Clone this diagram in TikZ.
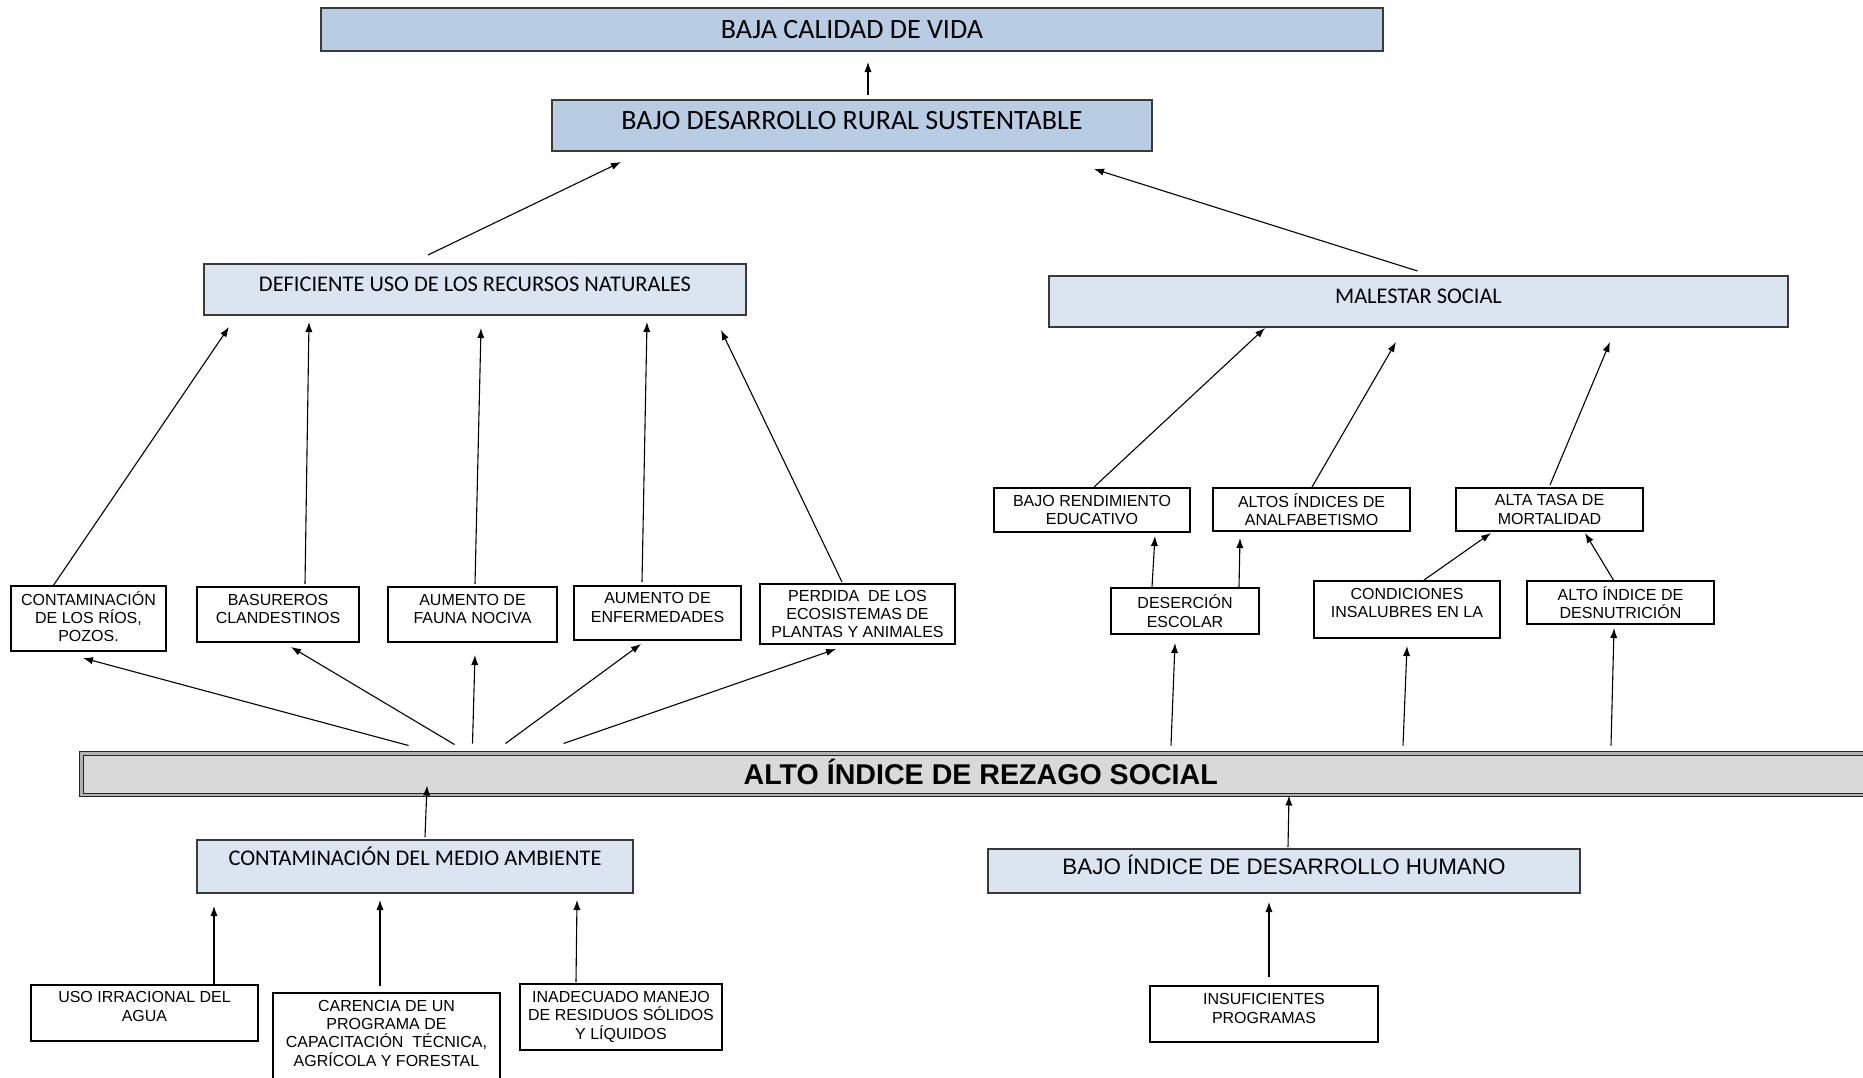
\documentclass[tikz,border=0pt]{standalone}
\usepackage{fontspec}
\setmainfont{Liberation Sans}
\newfontfamily\calibri{Carlito}
\usetikzlibrary{arrows.meta}

\definecolor{azul}{HTML}{B8CCE4}
\definecolor{azulclaro}{HTML}{DBE5F1}
\definecolor{gris}{HTML}{D9D9D9}
\definecolor{borde}{HTML}{3A3A3A}

\tikzset{
  caja/.style={draw=black, line width=0.6pt, inner sep=0pt, outer sep=0pt,
    align=center, font=\fontsize{8}{9.2}\selectfont},
  titulo/.style={draw=borde, line width=0.6pt, fill=azul, inner sep=0pt, outer sep=0pt,
    font=\calibri\fontsize{14}{16}\selectfont, text height=9pt},
  rama/.style={draw=borde, line width=0.6pt, fill=azulclaro, inner sep=0pt, outer sep=0pt,
    font=\calibri\fontsize{11.2}{13}\selectfont, text height=7.2pt},
  flecha/.style={-{Latex[length=5pt,width=3.6pt]}, line width=0.55pt}
}

\begin{document}
\begin{tikzpicture}[x=0.5pt,y=-0.5pt]
\useasboundingbox (0,0) rectangle (1863,1077);
\clip (0,0) rectangle (1863,1077);

% efectos
\node[titulo, minimum width=531pt, minimum height=21.5pt, text depth=0pt] (calidad) at (852,29.5) {BAJA CALIDAD DE VIDA};
\node[titulo, minimum width=300pt, minimum height=25.5pt, text depth=5.5pt] (rural) at (852,125.5) {BAJO DESARROLLO RURAL SUSTENTABLE};
\node[rama, minimum width=271pt, minimum height=25.5pt, text depth=5.5pt] (deficiente) at (475,289.5) {DEFICIENTE USO DE LOS RECURSOS NATURALES};
\node[rama, minimum width=369.5pt, minimum height=25.5pt, text depth=5.5pt] (malestar) at (1418.5,301.5) {MALESTAR SOCIAL};

\node[caja, minimum width=77.5pt, minimum height=32.5pt, text depth=2pt] (rios) at (88.5,618.5) {CONTAMINACIÓN\\DE LOS RÍOS,\\POZOS.};
\node[caja, minimum width=81pt, minimum height=27.5pt, text depth=5.5pt] (basura) at (278,614.5) {BASUREROS\\CLANDESTINOS};
\node[caja, minimum width=84.5pt, minimum height=27.5pt, text depth=5.5pt] (fauna) at (472.5,614.5) {AUMENTO DE\\FAUNA NOCIVA};
\node[caja, minimum width=83.5pt, minimum height=27pt, text depth=5.5pt] (enferm) at (657.5,613) {AUMENTO DE\\ENFERMEDADES};
\node[caja, minimum width=97.5pt, minimum height=30pt] (perdida) at (857.5,614) {PERDIDA\ \ DE LOS\\ECOSISTEMAS DE\\PLANTAS Y ANIMALES};

\node[caja, minimum width=98pt, minimum height=22pt] (rendim) at (1092,510) {BAJO RENDIMIENTO\\EDUCATIVO};
\node[caja, minimum width=98.5pt, minimum height=21.5pt] (analf) at (1311.5,509.5) {ALTOS ÍNDICES DE\\ANALFABETISMO};
\node[caja, minimum width=93.5pt, minimum height=21.5pt] (mortal) at (1549.5,509.5) {ALTA TASA DE\\MORTALIDAD};
\node[caja, minimum width=74pt, minimum height=23pt] (desercion) at (1185,611) {DESERCIÓN\\ESCOLAR};
\node[caja, minimum width=93pt, minimum height=28.5pt, text depth=6.5pt] (condic) at (1407,609.5) {CONDICIONES\\INSALUBRES EN LA};
\node[caja, minimum width=93.5pt, minimum height=21.5pt] (desnut) at (1620.5,602.5) {ALTO ÍNDICE DE\\DESNUTRICIÓN};

% problema central
\node[draw=black!85, line width=0.5pt, double=gray!60, double distance=1.2pt, fill=gris,
  inner sep=0pt, minimum width=899.25pt, minimum height=20.75pt,
  font=\bfseries\fontsize{14.3}{16}\selectfont, text height=10.2pt, text depth=0pt]
  (rezago) at (980.75,774.25) {ALTO ÍNDICE DE REZAGO SOCIAL};

% causas
\node[rama, minimum width=218pt, minimum height=26.5pt, text depth=8.5pt] (medio) at (415,866.5) {CONTAMINACIÓN DEL MEDIO AMBIENTE};
\node[rama, font=\fontsize{11.2}{13}\selectfont, text height=8pt, text depth=5pt,
  minimum width=296pt, minimum height=22pt] (idh) at (1284,871) {BAJO ÍNDICE DE DESARROLLO HUMANO};

\node[caja, minimum width=113.5pt, minimum height=28pt, text depth=6.5pt] (agua) at (144.5,1013) {USO IRRACIONAL DEL\\AGUA};
\node[caja, minimum width=113.5pt, minimum height=48.5pt, text depth=8.5pt] (carencia) at (386.5,1041.5) {CARENCIA DE UN\\PROGRAMA DE\\CAPACITACIÓN\ \ TÉCNICA,\\AGRÍCOLA Y FORESTAL};
\node[caja, minimum width=101pt, minimum height=33pt, text depth=2pt] (residuos) at (621,1017) {INADECUADO MANEJO\\DE RESIDUOS SÓLIDOS\\Y LÍQUIDOS};
\node[caja, minimum width=114pt, minimum height=28pt, text depth=5.5pt] (insuf) at (1264,1014) {INSUFICIENTES\\PROGRAMAS};

% flechas
\draw[flecha] ([shift={(16,-5)}]rural.north) -- ([shift={(16,11)}]calidad.south);
\draw[flecha] ([shift={(-47,-9)}]deficiente.north) -- ([shift={(-231,11)}]rural.south);
\draw[flecha] ([shift={(-1,-5)}]malestar.north) -- ([shift={(242,18)}]rural.south);

\draw[flecha] ([shift={(-35.5,0)}]rios.north) -- ([shift={(-246,12)}]deficiente.south);
\draw[flecha] ([shift={(27,-3)}]basura.north) -- ([shift={(-166,7)}]deficiente.south);
\draw[flecha] ([shift={(2.5,-3)}]fauna.north) -- ([shift={(6,13)}]deficiente.south);
\draw[flecha] ([shift={(-15.5,-4)}]enferm.north) -- ([shift={(172,7)}]deficiente.south);
\draw[flecha] ([shift={(-15.5,-2)}]perdida.north) -- ([shift={(246,15)}]deficiente.south);

\draw[flecha] ([shift={(327.5,-7.5)}]rezago.north west) -- ([shift={(-5.5,7)}]rios.south);
\draw[flecha] ([shift={(373.5,-8.5)}]rezago.north west) -- ([shift={(13,5)}]basura.south);
\draw[flecha] ([shift={(391.5,-9.5)}]rezago.north west) -- ([shift={(2.5,13)}]fauna.south);
\draw[flecha] ([shift={(424.5,-9.5)}]rezago.north west) -- ([shift={(-16.5,4)}]enferm.south);
\draw[flecha] ([shift={(482.5,-9.5)}]rezago.north west) -- ([shift={(-21.5,5)}]perdida.south);

\draw[flecha] ([shift={(2,-1)}]rendim.north) -- ([shift={(-153.5,1)}]malestar.south);
\draw[flecha] ([shift={(0.5,-1)}]analf.north) -- ([shift={(-22.5,15)}]malestar.south);
\draw[flecha] ([shift={(0.5,-3)}]mortal.north) -- ([shift={(191.5,15)}]malestar.south);

\draw[flecha] ([shift={(-33,-1)}]desercion.north) -- ([shift={(63,4)}]rendim.south);
\draw[flecha] ([shift={(54,-1)}]desercion.north) -- ([shift={(-71.5,7)}]analf.south);
\draw[flecha] ([shift={(17,-1)}]condic.north) -- ([shift={(-58.5,2)}]mortal.south);
\draw[flecha] ([shift={(-6.5,0)}]desnut.north) -- ([shift={(35.5,2)}]mortal.south);

\draw[flecha] ([shift={(190.25,-7.5)}]rezago.north) -- ([shift={(-10,9)}]desercion.south);
\draw[flecha] ([shift={(422.25,-7.5)}]rezago.north) -- ([shift={(0,8)}]condic.south);
\draw[flecha] ([shift={(630.25,-7.5)}]rezago.north) -- ([shift={(-6.5,4)}]desnut.south);

\draw[flecha] ([shift={(10,-3)}]medio.north) -- ([shift={(-553.75,-10)}]rezago.south);
\draw[flecha] ([shift={(4,-2)}]idh.north) -- ([shift={(308.25,0)}]rezago.south);

\draw[flecha] ([shift={(69.5,-1)}]agua.north) -- ([shift={(-201,13)}]medio.south);
\draw[flecha] ([shift={(-6.5,-7)}]carencia.north) -- ([shift={(-35,7)}]medio.south);
\draw[flecha] ([shift={(-45,-2)}]residuos.north) -- ([shift={(162,7)}]medio.south);
\draw[flecha] ([shift={(5,-9)}]insuf.north) -- ([shift={(-15,9)}]idh.south);
\end{tikzpicture}
\end{document}
